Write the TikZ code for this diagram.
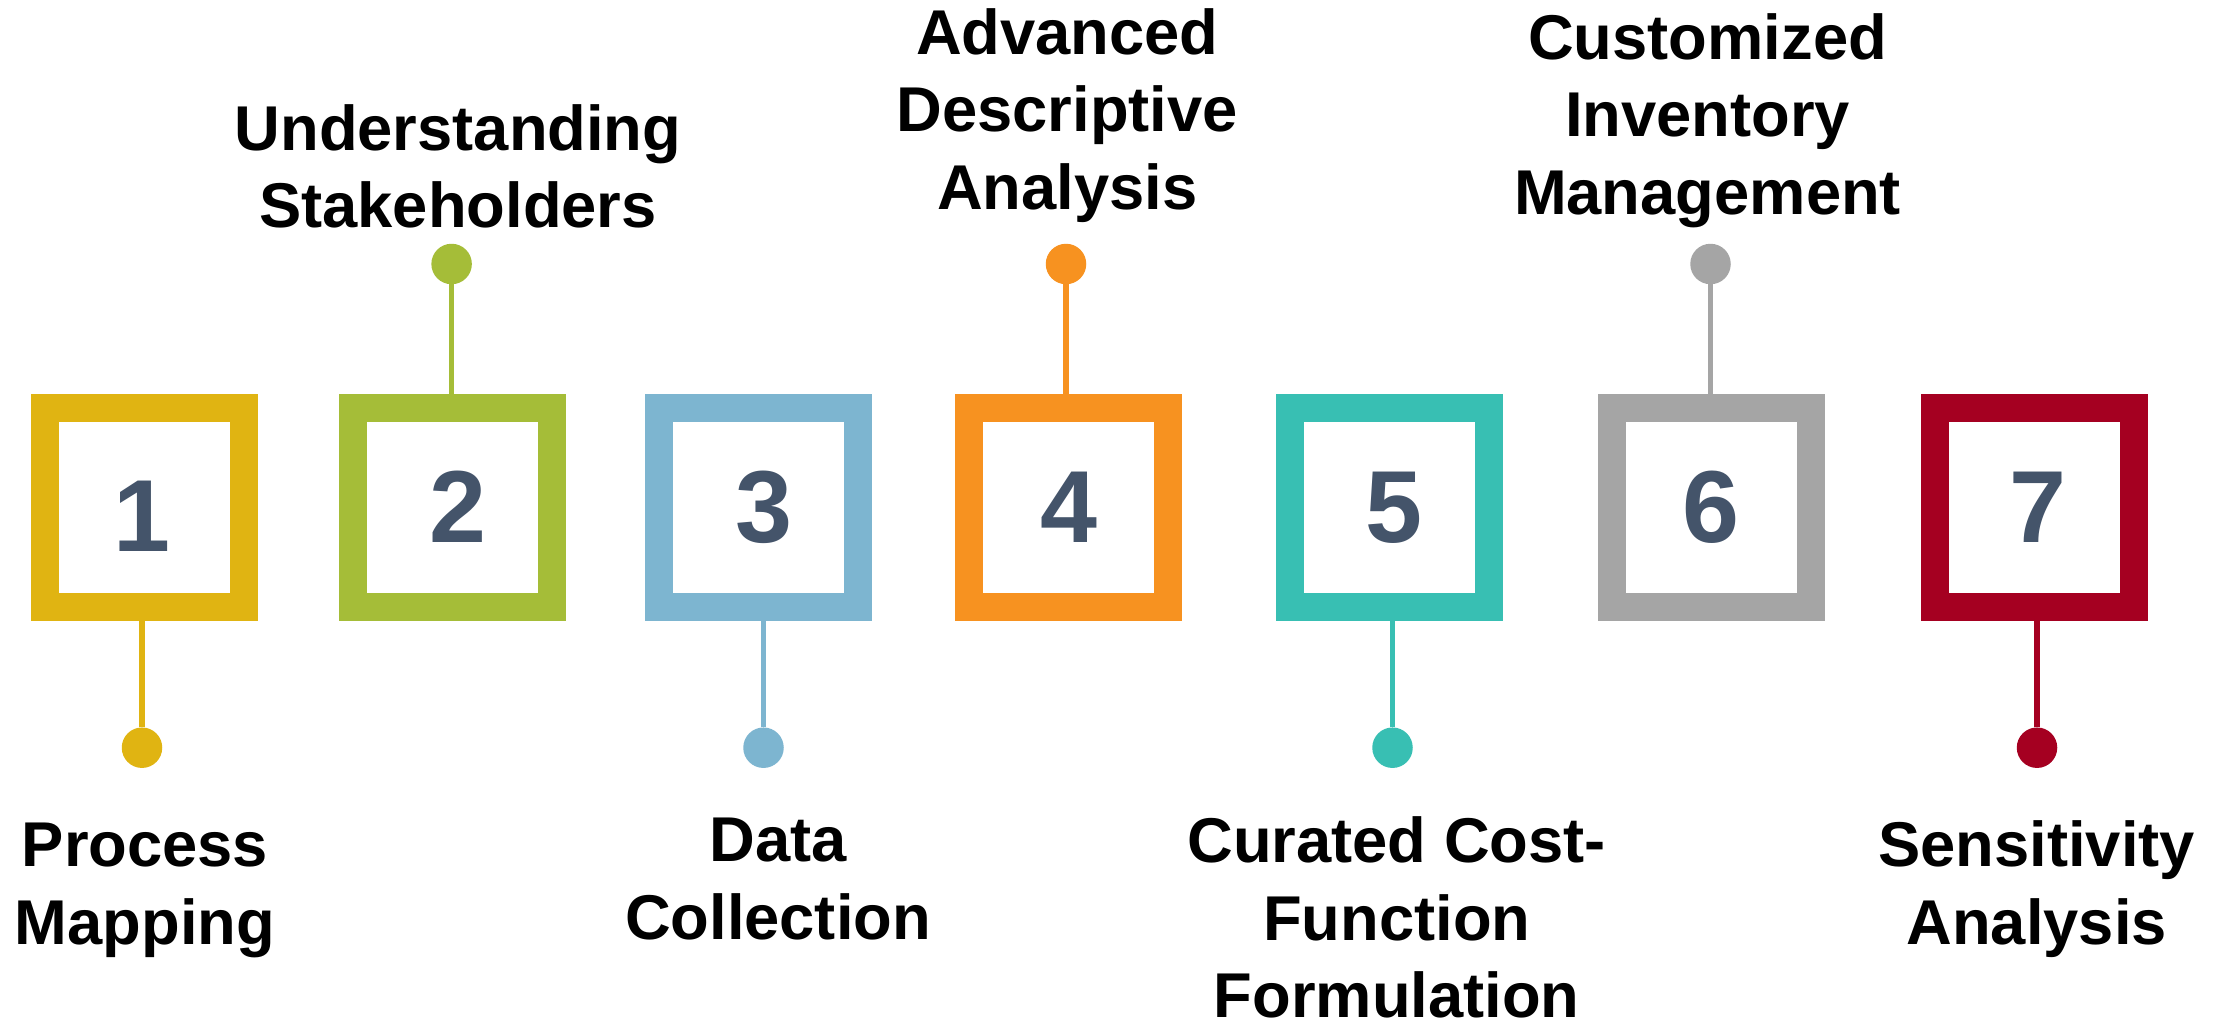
\documentclass[tikz,border=0pt]{standalone}
\usepackage{fontspec}
\setmainfont{Liberation Sans}

\definecolor{c1}{HTML}{E0B412}
\definecolor{c2}{HTML}{A5BD38}
\definecolor{c3}{HTML}{7DB5D0}
\definecolor{c4}{HTML}{F79220}
\definecolor{c5}{HTML}{38BFB3}
\definecolor{c6}{HTML}{A5A5A5}
\definecolor{c7}{HTML}{A50021}
\definecolor{numcol}{HTML}{44546A}

\begin{document}
\begin{tikzpicture}[x=1pt,y=-1pt,
  stepbox/.style={draw=#1, line width=28pt, minimum size=199pt, inner sep=0pt, outer sep=0pt},
  knob/.style={circle, fill=#1, minimum size=40.5pt, inner sep=0pt, outer sep=0pt},
  link/.style={draw=#1, line width=5.5pt},
  digit/.style={font=\fontsize{102.4}{110}\selectfont\bfseries, text=numcol, anchor=base, inner sep=0pt},
  steplabel/.style={font=\fontsize{63.3}{77.5}\selectfont\bfseries, align=center, anchor=base, inner sep=0pt}]

% canvas
\fill[white] (0,0) rectangle (2226,1022);
\useasboundingbox (0,0) rectangle (2226,1022);

% numbered frames
\node[stepbox=c1] (b1) at (144.5,507) {};
\node[stepbox=c2] (b2) at (452.5,507) {};
\node[stepbox=c3] (b3) at (758.3,507) {};
\node[stepbox=c4] (b4) at (1068.5,507) {};
\node[stepbox=c5] (b5) at (1389.5,507) {};
\node[stepbox=c6] (b6) at (1711.5,507) {};
\node[stepbox=c7] (b7) at (2034.3,507) {};

% step numbers
\node[digit] (n1) at (142,551.7) {1};
\node[digit] (n2) at (458,542.5) {2};
\node[digit] (n3) at (763.5,542.5) {3};
\node[digit] (n4) at (1068.5,542.5) {4};
\node[digit] (n5) at (1394,542.5) {5};
\node[digit] (n6) at (1711,542.5) {6};
\node[digit] (n7) at (2037.5,542.5) {7};

% end dots
\node[knob=c1] (d1) at (142,747.7) {};
\node[knob=c2] (d2) at (451.6,264) {};
\node[knob=c3] (d3) at (763.5,747.7) {};
\node[knob=c4] (d4) at (1066,264) {};
\node[knob=c5] (d5) at (1392.5,747.7) {};
\node[knob=c6] (d6) at (1710.5,264) {};
\node[knob=c7] (d7) at (2037,747.7) {};

% stems
\draw[link=c1] (b1.south -| d1) -- (d1);
\draw[link=c2] (b2.north -| d2) -- (d2);
\draw[link=c3] (b3.south -| d3) -- (d3);
\draw[link=c4] (b4.north -| d4) -- (d4);
\draw[link=c5] (b5.south -| d5) -- (d5);
\draw[link=c6] (b6.north -| d6) -- (d6);
\draw[link=c7] (b7.south -| d7) -- (d7);

% step titles (placed at the baseline of their last line)
\node[steplabel] (t1) at (145,944) {Process\\Mapping};
\node[steplabel] (t2) at (458,227.7) {Understanding\\Stakeholders};
\node[steplabel] (t3) at (778,939) {Data\\Collection};
\node[steplabel] (t4) at (1067.3,209.3) {Advanced\\Descriptive\\Analysis};
\node[steplabel] (t5) at (1396.7,1017.7) {Curated Cost-\\Function\\Formulation};
\node[steplabel] (t6) at (1707.5,214.3) {Customized\\Inventory\\Management};
\node[steplabel] (t7) at (2036.7,944) {Sensitivity\\Analysis};
\end{tikzpicture}
\end{document}
